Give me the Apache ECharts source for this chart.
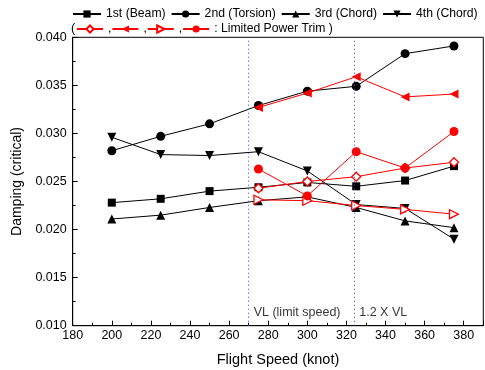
<!DOCTYPE html>
<html><head><meta charset="utf-8">
<script src="https://cdn.jsdelivr.net/npm/echarts@6/dist/echarts.min.js"></script>
<style>html,body{margin:0;padding:0;background:#fff}#c{width:485px;height:370px}</style>
</head><body><div id="c"></div>
<script>
var speeds = [200, 225, 250, 275, 300, 325, 350, 375];
var beam = [0.0228, 0.0232, 0.0240, 0.0244, 0.0249, 0.0245, 0.0251, 0.0266];
var torsion = [0.0282, 0.0297, 0.0310, 0.0329, 0.0344, 0.0349, 0.0383, 0.0391];
var chord3 = [0.0211, 0.0215, 0.0223, 0.0230, 0.0234, 0.0223, 0.0209, 0.0202];
var chord4 = [0.0296, 0.0278, 0.0277, 0.0281, 0.0261, 0.0226, 0.0222, 0.0190];
var lptSpeeds = [275, 300, 325, 350, 375];
var lptDiamond = [0.0243, 0.0250, 0.0255, 0.0264, 0.0270];
var lptLeftTri = [0.0327, 0.0342, 0.0359, 0.0338, 0.0341];
var lptRightTri = [0.0231, 0.0230, 0.0225, 0.0221, 0.0216];
var lptCircle = [0.0263, 0.0235, 0.0281, 0.0264, 0.0302];
var vlSpeeds = [270, 324];
var vlLabels = ['VL (limit speed)', '1.2 X VL'];

var FONT = 'Liberation Sans, Arial, sans-serif';
function pairs(xs, ys){ return xs.map(function(x,i){ return [x, ys[i]]; }); }

function blackSeries(name, data, symbol, rot){
  return {name:name, type:'line', data:pairs(speeds,data), symbol:symbol, symbolRotate:rot||0,
    symbolSize: symbol==='rect'?8:9, color:'#000', lineStyle:{color:'#000', width:1},
    itemStyle:{color:'#000'}, z:2, animation:false};
}
function redSeries(name, data, symbol, rot, open){
  return {name:name, type:'line', data:pairs(lptSpeeds,data), symbol:symbol, symbolRotate:rot||0,
    symbolSize:9, color:'#ff0000', lineStyle:{color:'#ff0000', width:1},
    itemStyle: open ? {color:'#fff', borderColor:'#ff0000', borderWidth:1.3} : {color:'#ff0000'},
    z:3, animation:false};
}

var series = [
  blackSeries('1st (Beam)', beam, 'rect'),
  blackSeries('2nd (Torsion)', torsion, 'circle'),
  blackSeries('3rd (Chord)', chord3, 'triangle'),
  blackSeries('4th (Chord)', chord4, 'triangle', 180),
  redSeries('LPT1', lptDiamond, 'diamond', 0, true),
  redSeries('LPT2', lptLeftTri, 'triangle', 90, false),
  redSeries('LPT3', lptRightTri, 'triangle', -90, true),
  redSeries('LPT4', lptCircle, 'circle', 0, false),
  {name:'vl', type:'scatter', data: vlSpeeds.map(function(x){return [x, 0.01135];}),
   symbolSize:0, silent:true, animation:false,
   label:{show:true, position:'right', distance:5, color:'#000', fontFamily:FONT, fontSize:12.5,
     formatter:function(p){ return vlLabels[p.dataIndex]; }},
   markLine:{silent:true, symbol:'none', animation:false, label:{show:false},
     lineStyle:{color:'#4444ff', type:[1,3], width:1},
     data: vlSpeeds.map(function(x){ return {xAxis:x}; })}
  }
];

var chart = echarts.init(document.getElementById('c'), null, {renderer:'canvas'});
chart.setOption({
  backgroundColor:'#fff',
  animation:false,
  textStyle:{fontFamily:FONT},
  grid:{left:72.7, top:37.3, right:1.7, bottom:44.3, show:true, borderColor:'#000', borderWidth:1,
        containLabel:false, outerBoundsMode:'none'},
  legend:[
    {data:['1st (Beam)','2nd (Torsion)','3rd (Chord)','4th (Chord)'], left:72, top:8, width:480,
     itemWidth:28, itemHeight:9, itemGap:5, padding:0,
     textStyle:{fontFamily:FONT, fontSize:12.2, color:'#000'}},
    {data:['LPT1','LPT2','LPT3','LPT4'], left:76, top:23, width:400, itemWidth:26, itemHeight:9, itemGap:0, padding:0,
     selectedMode:false,
     formatter:function(n){ return n==='LPT4' ? ': Limited Power Trim )' : ','; },
     textStyle:{fontFamily:FONT, fontSize:12.2, color:'#000'}}
  ],
  graphic:[{type:'text', left:71, top:22, style:{text:'(', font:'12.5px '+FONT, fill:'#000'}}],
  xAxis:[
    {type:'value', min:180, max:390, interval:10, position:'bottom',
     name:'Flight Speed (knot)', nameLocation:'middle', nameGap:27,
     nameTextStyle:{fontFamily:FONT, fontSize:14.5, color:'#000'},
     axisLine:{show:true, lineStyle:{color:'#000'}},
     axisTick:{show:true, inside:true, length:3, lineStyle:{color:'#000'}},
     axisLabel:{color:'#000', fontFamily:FONT, fontSize:12.5, margin:3, showMaxLabel:false,
       formatter:function(v){ return (v%20===0)? String(v) : ''; }},
     splitLine:{show:false}},
    {type:'value', min:180, max:390, interval:20, position:'bottom',
     axisLine:{show:false}, axisLabel:{show:false}, splitLine:{show:false},
     axisTick:{show:true, inside:true, length:5, lineStyle:{color:'#000'}}}
  ],
  yAxis:{type:'value', min:0.010, max:0.040, interval:0.005,
     name:'Damping (critical)', nameLocation:'middle', nameGap:46, nameRotate:90,
     nameTextStyle:{fontFamily:FONT, fontSize:14, color:'#000'},
     axisLine:{show:true, lineStyle:{color:'#000'}},
     axisTick:{show:true, inside:true, length:5, lineStyle:{color:'#000'}},
     minorTick:{show:true, splitNumber:2, length:3, lineStyle:{color:'#000'}},
     axisLabel:{color:'#000', fontFamily:FONT, fontSize:12.5, margin:6,
       formatter:function(v){ return v.toFixed(3); }},
     splitLine:{show:false}},
  series:series
});
</script></body></html>
